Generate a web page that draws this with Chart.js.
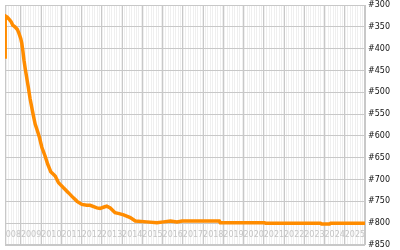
<!DOCTYPE html>
<html>
<head>
<meta charset="utf-8">
<script src="https://cdn.jsdelivr.net/npm/chart.js@4/dist/chart.umd.min.js"></script>
<style>
  html, body { margin: 0; padding: 0; background: #fff; }
  #wrap { width: 400px; height: 250px; position: relative; }
</style>
</head>
<body>
<div id="wrap"><canvas id="chart"></canvas></div>
<script>
// rank history, x as decimal year
const dates = [
  2008.21, 2008.22, 2008.32, 2008.42, 2008.51, 2008.59, 2008.70, 2008.82, 2008.90, 2008.99,
  2009.04, 2009.09, 2009.15, 2009.21, 2009.36, 2009.45, 2009.53, 2009.61, 2009.70, 2009.81,
  2009.91, 2010.03, 2010.19, 2010.32, 2010.47, 2010.69, 2010.85, 2011.10, 2011.34, 2011.59,
  2011.77, 2012.01, 2012.25, 2012.42, 2012.75, 2012.91, 2013.11, 2013.24, 2013.41, 2013.65,
  2013.85, 2014.07, 2014.40, 2014.65, 2015.22, 2015.72, 2016.05, 2016.38, 2016.71, 2016.96,
  2018.80, 2018.85, 2021.03, 2021.08, 2023.80, 2023.85, 2024.25, 2024.30, 2026.00
]
const ranks = [
  419, 325, 328, 333, 338, 346, 350, 356, 365, 377,
  388, 404, 427, 446, 488, 515, 534, 553, 573, 588,
  603, 626, 646, 665, 682, 692, 707, 719, 730, 742,
  750, 757, 759, 759, 765, 766, 763, 761, 765, 776,
  778, 781, 787, 795, 797, 799, 797, 795, 797, 795,
  795, 799, 799, 800, 800, 802, 802, 800, 800
]
const yearLabels = [2008, 2009, 2010, 2011, 2012, 2013, 2014, 2015, 2016,
  2017, 2018, 2019, 2020, 2021, 2022, 2023, 2024, 2025]
const rankTicks = [300, 350, 400, 450, 500, 550, 600, 650, 700, 750, 800, 850]

const xMin = 2008.21
const xMax = 2026

const plotFrame = {
  id: 'plotFrame',
  beforeDraw(chart) {
    const { ctx, chartArea: a } = chart
    ctx.save()
    ctx.fillStyle = '#efefef'
    ctx.fillRect(a.left, a.top, a.width, a.height)
    ctx.restore()
  },
  beforeDatasetsDraw(chart) {
    const { ctx, chartArea: a, scales } = chart
    ctx.save()
    // year labels sit inside the plot, centred on each year
    ctx.beginPath()
    ctx.rect(a.left, a.top, a.width, a.height)
    ctx.clip()
    ctx.font = '8px "DejaVu Sans"'
    ctx.fillStyle = '#c4c4c4'
    ctx.textAlign = 'center'
    ctx.textBaseline = 'middle'
    yearLabels.forEach(y => {
      ctx.fillText(String(y), scales.x.getPixelForValue(y + 0.5), a.bottom - 10)
    })
    ctx.restore()
    ctx.save()
    ctx.strokeStyle = '#c8c8c8'
    ctx.lineWidth = 1
    ctx.strokeRect(Math.round(a.left) + 0.5, Math.round(a.top) + 0.5,
      Math.round(a.width) - 1, Math.round(a.height) - 1)
    ctx.restore()
  }
}

new Chart(document.getElementById('chart'), {
  type: 'line',
  data: {
    datasets: [{
      data: dates.map((d, i) => ({ x: d, y: ranks[i] })),
      borderColor: '#ff8c00',
      borderWidth: 3.5,
      pointRadius: 0,
      tension: 0,
      fill: false
    }]
  },
  options: {
    responsive: true,
    maintainAspectRatio: false,
    animation: false,
    layout: { padding: { left: 5, top: 0, bottom: 0, right: 0 } },
    plugins: { legend: { display: false }, tooltip: { enabled: false } },
    scales: {
      x: {
        type: 'linear',
        min: xMin,
        max: xMax,
        afterBuildTicks: s => {
          const t = []
          for (let m = 2008 * 12; m <= 2026 * 12; m++) {
            const v = m / 12
            if (v > xMin && v <= xMax) t.push({ value: v, major: m % 12 === 0 })
          }
          s.ticks = t
        },
        ticks: { display: false },
        grid: {
          drawTicks: false,
          color: c => (c.tick && c.tick.major ? '#c8c8c8' : '#ffffff')
        },
        border: { display: false },
        afterFit: s => { s.height = 0 }
      },
      y: {
        type: 'linear',
        position: 'right',
        reverse: true,
        min: 300,
        max: 850,
        afterBuildTicks: s => { s.ticks = rankTicks.map(v => ({ value: v })) },
        ticks: {
          callback: v => '#' + v,
          color: '#111',
          font: { size: 8, family: 'DejaVu Sans' },
          padding: 3
        },
        grid: { drawTicks: false, color: '#c8c8c8' },
        border: { display: false },
        afterFit: s => {
          s.width = 35
          s.paddingTop = 5
          s.paddingBottom = 5
        }
      }
    }
  },
  plugins: [plotFrame]
})
</script>
</body>
</html>
